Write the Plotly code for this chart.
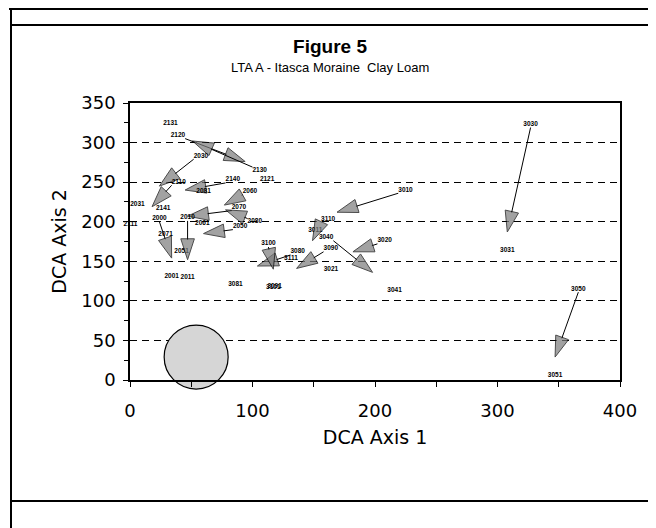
import plotly.graph_objects as go

# DCA ordination shifts, plot code at start (year 0) and end (year 1)
start_labels = ["2120", "2130", "2030", "2110", "2140", "2060", "2070", "2080", "2050", "2010",
                "2000", "3080", "3100", "3010", "3110", "3040", "3090", "3020", "3030", "3050"]
end_labels = ["2121", "2131", "2031", "2111", "2141", "2061", "2071", "2081", "2051", "2011",
              "2001", "3081", "3101", "3011", "3111", "3041", "3091", "3021", "3031", "3051"]
x_start = [45, 100, 52, 34, 78, 92, 83, 96, 84, 47, 24, 131, 113, 219, 156, 166, 158, 202, 327, 366]
y_start = [305, 269, 279, 246, 249, 234, 214, 204, 190, 201, 200, 158, 168, 236, 199, 176, 162, 172, 319, 111]
x_end = [94, 51, 24, 18, 45, 77, 47, 78, 60, 47, 34, 104, 117, 169, 149, 198, 136, 182, 308, 347]
y_end = [276, 302, 245, 219, 240, 221, 207, 215, 185, 152, 154, 144, 140, 212, 176, 136, 141, 162, 187, 29]

# reference circle
circle_x = [54]
circle_y = [29]

x_ticks = [0, 100, 200, 300, 400]
y_ticks = [0, 50, 100, 150, 200, 250, 300, 350]


def side(dx, dy, away):
    s = -1 if away else 1
    v = "top" if dy * s > 0 else "bottom"
    if abs(dx) < 0.25 * abs(dy):
        h = "center"
    else:
        h = "right" if dx * s > 0 else "left"
    return v + " " + h


fig = go.Figure()

fig.add_trace(go.Scatter(
    x=circle_x, y=circle_y, mode="markers", cliponaxis=False,
    marker=dict(symbol="circle", size=64, color="#d6d6d6", line=dict(color="black", width=1.2)),
    showlegend=False, hoverinfo="skip"))

for i in range(len(start_labels)):
    dx = x_end[i] - x_start[i]
    dy = y_end[i] - y_start[i]
    fig.add_trace(go.Scatter(
        x=[x_start[i], x_end[i]], y=[y_start[i], y_end[i]],
        mode="lines+markers+text", cliponaxis=False,
        line=dict(color="black", width=1),
        marker=dict(symbol=["circle", "arrow"], size=[0, 22], angleref="previous",
                    color="#7c7c7c", line=dict(color="black", width=1)),
        text=[start_labels[i], end_labels[i]],
        textposition=[side(dx, dy, True), side(dx, dy, False)],
        textfont=dict(family="Liberation Sans", size=6.5, color="black", weight="bold"),
        showlegend=False, hoverinfo="skip"))

axis_font = dict(family="DejaVu Sans", size=18, color="black")

# the page sits 8px in from the window corner, so margins are shifted by that
fig.update_layout(
    width=656, height=528,
    margin=dict(l=122, r=44, t=95, b=156),
    paper_bgcolor="white", plot_bgcolor="white",
    title=dict(text="<b>Figure 5</b>", x=322 / 656, xref="container", xanchor="center",
               y=1 - 38 / 528, yref="container", yanchor="middle",
               font=dict(family="Liberation Sans", size=19, color="black")),
    xaxis=dict(range=[0, 400], tickvals=x_ticks, showgrid=False, zeroline=False,
               showline=True, linecolor="black", linewidth=1.5, mirror=True,
               ticks="outside", ticklen=5, tickcolor="black", ticklabelstandoff=9,
               minor=dict(dtick=50, ticks="outside", ticklen=5, tickcolor="black"),
               tickfont=axis_font,
               title=dict(text="DCA Axis 1", font=dict(family="DejaVu Sans", size=19, color="black"),
                          standoff=10)),
    yaxis=dict(range=[0, 350], tickvals=y_ticks, showgrid=True, gridcolor="black",
               griddash="7px,5px", gridwidth=1, zeroline=False,
               showline=True, linecolor="black", linewidth=1.5, mirror=True,
               ticks="outside", ticklen=5, tickcolor="black", ticklabelstandoff=4,
               minor=dict(dtick=25, ticks="outside", ticklen=4, tickcolor="black"),
               tickfont=axis_font,
               title=dict(text="DCA Axis 2", font=dict(family="DejaVu Sans", size=19, color="black"),
                          standoff=10)),
    annotations=[dict(text="LTA A - Itasca Moraine  Clay Loam", xref="paper", yref="paper",
                      x=(330 - 130) / 490, y=(380 - 68) / 277, showarrow=False,
                      xanchor="center", yanchor="middle",
                      font=dict(family="Liberation Sans", size=13, color="black"))],
)

# page frame around the chart (window pixel positions)
frame = dict(color="black", width=2)
px = lambda v: (v - 130) / 490
py = lambda v: (380 - v) / 277
fig.add_shape(type="line", xref="paper", yref="paper", x0=px(9), x1=px(656), y0=py(9), y1=py(9), line=frame)
fig.add_shape(type="line", xref="paper", yref="paper", x0=px(11), x1=px(650), y0=py(25), y1=py(25), line=frame)
fig.add_shape(type="line", xref="paper", yref="paper", x0=px(11), x1=px(650), y0=py(501), y1=py(501), line=frame)
fig.add_shape(type="line", xref="paper", yref="paper", x0=px(11), x1=px(11), y0=py(9), y1=py(536), line=frame)
fig.add_shape(type="line", xref="paper", yref="paper", x0=px(650), x1=px(650), y0=py(9), y1=py(536), line=frame)

fig.write_html("out.html")
